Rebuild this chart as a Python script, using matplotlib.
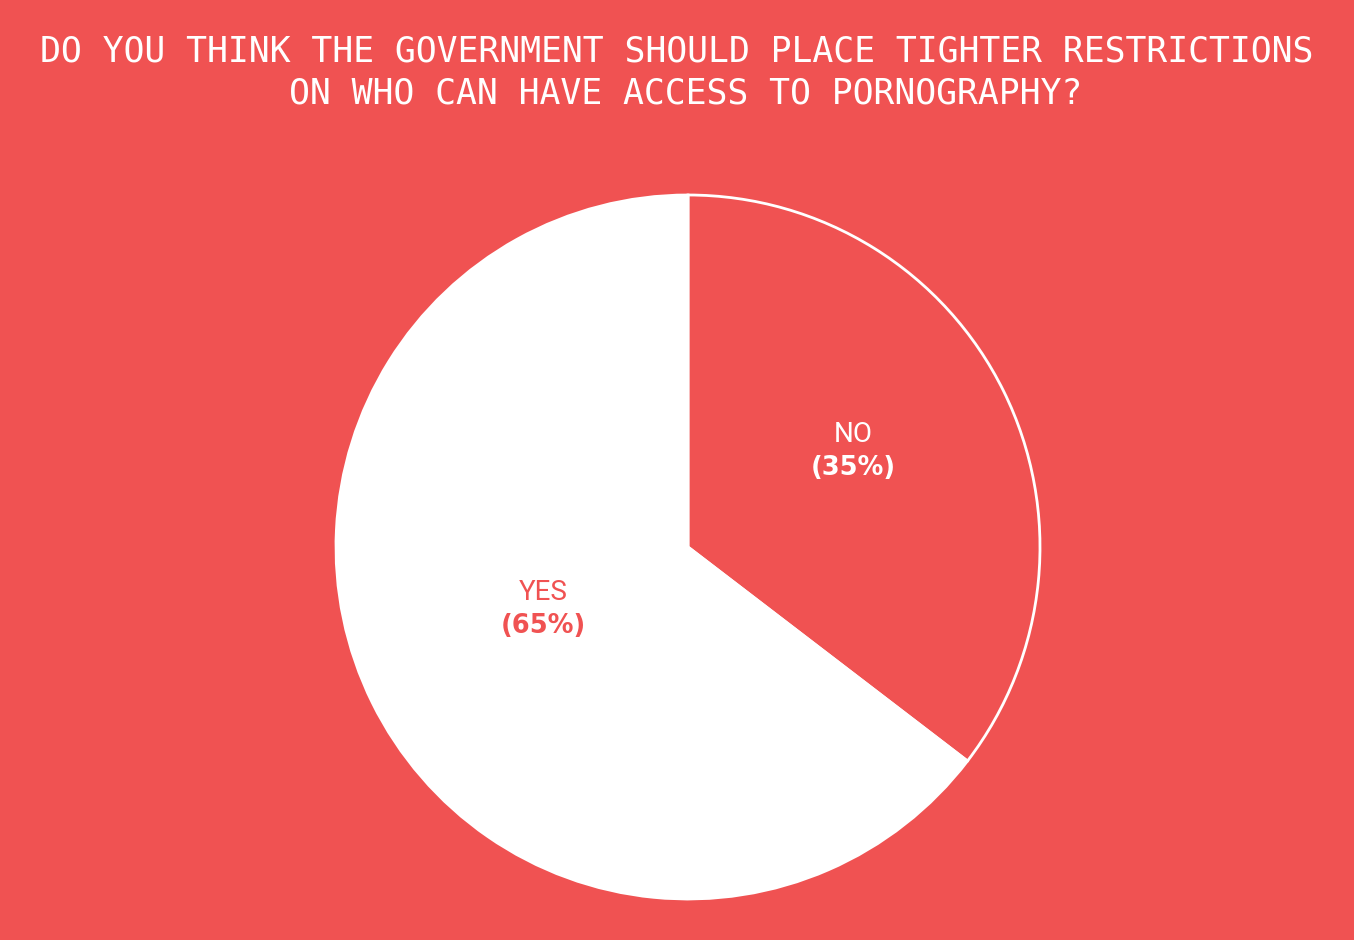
import matplotlib
matplotlib.use('Agg')
import matplotlib.pyplot as plt

# data
answers = ['NO', 'YES']
shares = [35.4, 64.6]
label_pcts = ['(35%)', '(65%)']
title_lines = ['DO YOU THINK THE GOVERNMENT SHOULD PLACE TIGHTER RESTRICTIONS',
               'ON WHO CAN HAVE ACCESS TO PORNOGRAPHY?']

bg = '#F05252'
W, H = 1354, 940

fig = plt.figure(figsize=(W / 100, H / 100), dpi=100, facecolor=bg)
ax = fig.add_axes([0, 0, 1, 1])
ax.set_facecolor(bg)

cx, cy, r = 688, H - 547, 352
wedges, _ = ax.pie(shares, colors=[bg, 'white'], startangle=90, counterclock=False,
                   center=(cx, cy), radius=r, frame=True,
                   wedgeprops=dict(edgecolor='white', linewidth=2))
ax.set_xlim(0, W)
ax.set_ylim(0, H)
ax.set_aspect('equal')
ax.axis('off')

# slice labels
label_pos = [(853, 435), (543, 593)]
label_cols = ['white', bg]
for name, pct, (x, y), c in zip(answers, label_pcts, label_pos, label_cols):
    ax.text(x, H - y, name, ha='center', va='center', fontsize=20,
            family='Roboto', color=c)
    ax.text(x, H - y - 33, pct, ha='center', va='center', fontsize=18.5,
            family='DejaVu Sans', fontweight='bold', color=c)

# title, two lines (second line sits a little right of centre in the original)
for line_txt, (tx, ty) in zip(title_lines, [(677, 52), (686, 93)]):
    fig.text(tx / W, 1 - ty / H, line_txt, ha='center', va='center', fontsize=25,
             family='DejaVu Sans Mono', color='white')

fig.savefig('out.png', dpi=100, facecolor=bg)
